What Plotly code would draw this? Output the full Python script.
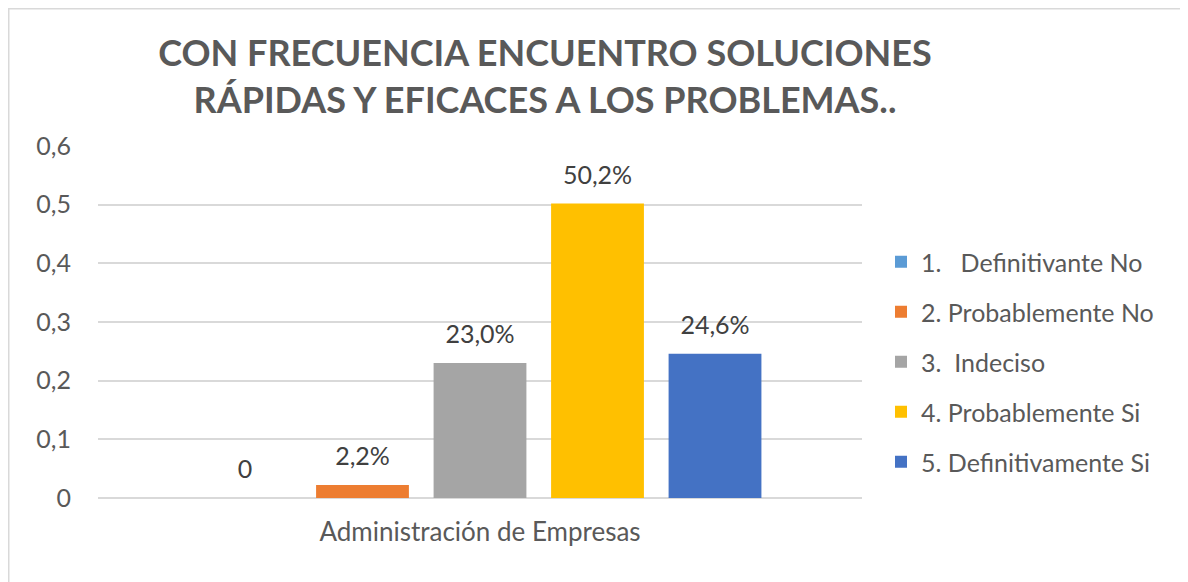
import plotly.graph_objects as go

categories = ["Administración de Empresas"]
series_names = ["1.   Definitivante No", "2. Probablemente No", "3.  Indeciso",
                "4. Probablemente Si", "5. Definitivamente Si"]
series_values = [0, 0.022, 0.230, 0.502, 0.246]
series_labels = ["0", "2,2%", "23,0%", "50,2%", "24,6%"]
series_colors = ["#5B9BD5", "#ED7D31", "#A5A5A5", "#FFC000", "#4472C4"]
y_ticks = [0, 0.1, 0.2, 0.3, 0.4, 0.5, 0.6]

FONT = "Lato"
# the page body adds an 8px margin, so the figure is sized/positioned to compensate
OFF = 8
W, H = 1188 - OFF, 582 - OFF
L, T = 98 - OFF, 146 - OFF
R = W - (862 - OFF)
B = H - (498 - OFF)

fig = go.Figure()
for i, (name, val, lab, col) in enumerate(zip(series_names, series_values, series_labels, series_colors)):
    fig.add_trace(go.Bar(
        x=categories, y=[val], name=name, marker=dict(color=col, line=dict(width=0)),
        text=["<span style='font-size:25px'>" + lab + "</span><br> "], textposition="outside",
        textfont=dict(family=FONT, size=11.5, color="#404040"),
        cliponaxis=False, legendgroup=str(i),
    ))

pw = W - L - R
ph = H - T - B
fig.update_layout(
    width=W, height=H,
    margin=dict(l=L, r=R, t=T, b=B),
    paper_bgcolor="white", plot_bgcolor="white",
    separators=",.",
    barmode="group", bargap=0.231, bargroupgap=0.21,
    title=dict(text="CON FRECUENCIA ENCUENTRO SOLUCIONES<br>RÁPIDAS Y EFICACES A LOS PROBLEMAS..",
               font=dict(family=FONT, size=36, color="#595959", weight="bold"),
               x=(545 - OFF) / W, xanchor="center", xref="container",
               y=1 - 58 / H, yanchor="top", yref="container"),
    font=dict(family=FONT, color="#595959"),
    legend=dict(x=(881 - 98) / pw, xanchor="left", y=(498 - 362) / ph, yanchor="middle",
                font=dict(family=FONT, size=25, color="#595959"),
                tracegroupgap=14.5, itemwidth=30, bgcolor="rgba(0,0,0,0)"),
    xaxis=dict(showgrid=False, showline=False, ticks="", ticklabelstandoff=16,
               tickfont=dict(family=FONT, size=26, color="#595959"), fixedrange=True),
    yaxis=dict(range=[0, 0.6], tickvals=y_ticks, showgrid=True, gridcolor="#D9D9D9", gridwidth=1.5,
               zeroline=True, zerolinecolor="#D9D9D9", zerolinewidth=1.5,
               showline=False, ticks="", ticklabelstandoff=26,
               tickfont=dict(family=FONT, size=25, color="#595959")),
    showlegend=True,
)
# chart border
fig.add_shape(type="rect", xref="paper", yref="paper",
              x0=(0.75 - L) / pw, x1=(1176 - L) / pw,
              y0=(H - B - 600) / ph, y1=(H - B - 0.75) / ph,
              line=dict(color="#D9D9D9", width=1.5), fillcolor="rgba(0,0,0,0)", layer="below")

fig.write_html("out.html")
